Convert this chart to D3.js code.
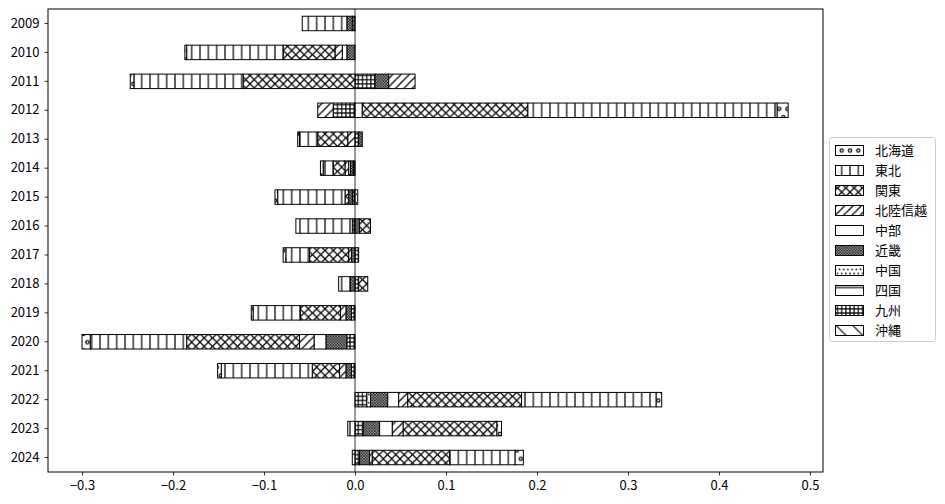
<!DOCTYPE html>
<html><head><meta charset="utf-8">
<script src="https://cdn.jsdelivr.net/npm/d3@7"></script>
<style>body{margin:0;background:#fff}svg{display:block}text{font-family:"Noto Sans CJK JP","Noto Sans",sans-serif}</style>
</head><body><svg id="c" width="945" height="504"></svg>
<script>
const years = [2009,2010,2011,2012,2013,2014,2015,2016,2017,2018,2019,2020,2021,2022,2023,2024];
const regions = ["北海道","東北","関東","北陸信越","中部","近畿","中国","四国","九州","沖縄"];
const hokkaido = [0,-0.002,-0.004,0.012,-0.002,-0.003,-0.003,0,-0.003,0,-0.002,-0.009,-0.004,0.006,0.005,0.009];
const tohoku   = [-0.049,-0.106,-0.120,0.274,-0.020,-0.011,-0.074,-0.062,-0.026,-0.013,-0.052,-0.106,-0.100,0.148,-0.008,0.072];
const kanto    = [0,-0.057,-0.123,0.182,-0.033,-0.013,-0.004,0.012,-0.043,0.010,-0.044,-0.124,-0.030,0.125,0.103,0.085];
const hokuriku = [0,-0.008,0.029,-0.017,-0.008,-0.004,0,0,-0.003,0,-0.006,-0.016,-0.007,0.010,0.012,0.003];
const chubu    = [0,-0.005,0,0.008,0,-0.002,0,0,0,0,0,-0.013,0,0.012,0.014,0];
const kinki    = [-0.006,-0.009,0.015,0,0.004,-0.003,-0.004,0.005,-0.004,-0.005,-0.006,-0.023,-0.006,0.019,0.018,0.011];
const chugoku  = [0,0,0,0,0,0,0.003,0,0,0,0,0,0,0.004,0,0];
const shikoku  = [0,0,0,0,0,0,0,0,0,0,0,0,0,0,0,-0.003];
const kyushu   = [-0.003,0,0.022,-0.024,0.004,-0.002,-0.003,-0.003,0.004,0.004,-0.004,-0.009,-0.004,0.013,0.009,0.005];
const okinawa  = [0,0,0,0,0,0,0,0,0,0,0,0,0,0,0,0];
const series = [hokkaido,tohoku,kanto,hokuriku,chubu,kinki,chugoku,shikoku,kyushu,okinawa];
const xTicks = [-0.3,-0.2,-0.1,0.0,0.1,0.2,0.3,0.4,0.5];

const svg = d3.select("#c");
const L=48,R=823,T=9,B=472;
const x = d3.scaleLinear().domain([-0.3374,0.5143]).range([L,R]);
const y = d3.scaleBand().domain(years).range([T,B]).paddingInner(0.5).paddingOuter(0.25);

// hatch patterns
const defs = svg.append("defs");
const S = 100/12; // hatch spacing
const hw = 1.2;
function pat(id,w,h,draw,oy){
  const p = defs.append("pattern").attr("id",id).attr("patternUnits","userSpaceOnUse")
    .attr("width",w).attr("height",h).attr("x",0).attr("y",oy===undefined?0.5:oy);
  p.append("rect").attr("width",w).attr("height",h).attr("fill","#fff");
  draw(p,w,h);
}
function ln(p,x1,y1,x2,y2){p.append("line").attr("x1",x1).attr("y1",y1).attr("x2",x2).attr("y2",y2).attr("stroke","#000").attr("stroke-width",hw);}
function circ(p,cx,cy,r,fill){p.append("circle").attr("cx",cx).attr("cy",cy).attr("r",r).attr("fill",fill?"#000":"none").attr("stroke","#000").attr("stroke-width",fill?0:hw);}
function stag(p,w,r,fill){ [[0,0],[w,0],[0,2*w],[w,2*w],[w/2,w]].forEach(c=>circ(p,c[0],c[1],r,fill)); }
pat("h0",S,2*S,(p,w)=>stag(p,w,w*0.2,false));
pat("h1",S,S,(p,w,h)=>{ln(p,0,0,0,h);ln(p,w,0,w,h);});
pat("h2",S,S,(p,w,h)=>{ln(p,-1,h+1,w+1,-1);ln(p,-1,-1,w+1,h+1);ln(p,-w/2-1,w/2+1,w/2+1,-w/2-1);ln(p,w/2-1,w*1.5+1,w*1.5+1,w/2-1);ln(p,-w/2-1,w/2-1,w/2+1,w*1.5+1);ln(p,w/2-1,-w/2-1,w*1.5+1,w/2+1);});
pat("h3",S,S,(p,w,h)=>{ln(p,-1,h+1,w+1,-1);ln(p,-w/2-1,w/2+1,w/2+1,-w/2-1);ln(p,w/2-1,w*1.5+1,w*1.5+1,w/2-1);});
pat("h4",S,S,()=>{});
pat("h5",S/3,S/3,(p,w)=>{circ(p,0,0,0.9,true);circ(p,w,0,0.9,true);circ(p,0,w,0.9,true);circ(p,w,w,0.9,true);circ(p,w/2,w/2,0.9,true);});
pat("h6",S/2,S,(p,w)=>stag(p,w,w*0.2,true),-1.5);
pat("h7",2*S,2*S,(p,w,h)=>{ln(p,0,0,w,0);ln(p,0,h,w,h);},4.2);
pat("h8",S/2,S/2,(p,w,h)=>{ln(p,0,0,0,h);ln(p,w,0,w,h);ln(p,0,0,w,0);ln(p,0,h,w,h);});
pat("h9",2*S,2*S,(p,w,h)=>{ln(p,-1,-1,w+1,h+1);ln(p,-w/2-1,w/2-1,w/2+1,w*1.5+1);ln(p,w/2-1,-w/2-1,w*1.5+1,w/2+1);},6);

// stacked data (pos/neg stacked separately, reverse column order)
const segs=[];
years.forEach((yr,i)=>{
  let pos=0,neg=0;
  for(let k=series.length-1;k>=0;k--){
    const v=series[k][i];
    if(v>=0){segs.push({yr,k,x0:pos,x1:pos+v});pos+=v;}
    else{segs.push({yr,k,x0:neg+v,x1:neg});neg+=v;}
  }
});
svg.append("g").selectAll("rect").data(segs.filter(d=>d.x1-d.x0>0)).join("rect")
  .attr("x",d=>x(d.x0)).attr("width",d=>x(d.x1)-x(d.x0))
  .attr("y",d=>y(d.yr)).attr("height",y.bandwidth())
  .attr("fill",d=>`url(#h${d.k})`).attr("stroke","#000").attr("stroke-width",1);

// zero line
svg.append("line").attr("x1",x(0)).attr("x2",x(0)).attr("y1",T).attr("y2",B).attr("stroke","#000").attr("stroke-width",0.8);

// axes
const fmt=d3.format(".1f");
const gx=svg.append("g").attr("transform",`translate(0,${B})`).call(d3.axisBottom(x).tickValues(xTicks).tickFormat(fmt).tickSize(3.5).tickPadding(5));
const gy=svg.append("g").attr("transform",`translate(${L},0)`).call(d3.axisLeft(y).tickSize(3.5).tickPadding(5));
[gx,gy].forEach(g=>{g.select(".domain").remove();g.selectAll("line").attr("stroke","#000").attr("stroke-width",0.8);g.selectAll("text").attr("font-size",13).attr("fill","#000").attr("font-family","\"Noto Sans CJK JP\",sans-serif");});
svg.append("rect").attr("x",L).attr("y",T).attr("width",R-L).attr("height",B-T).attr("fill","none").attr("stroke","#000").attr("stroke-width",1);

// legend
const lg=svg.append("g");
lg.append("rect").attr("x",829.5).attr("y",137.5).attr("width",106).attr("height",204).attr("rx",3)
  .attr("fill","#fff").attr("fill-opacity",0.8).attr("stroke","#ccc").attr("stroke-width",1);
regions.forEach((r,k)=>{
  const cy=150.5+k*20;
  lg.append("rect").attr("x",835.5).attr("y",cy-5).attr("width",28).attr("height",10)
    .attr("fill",`url(#h${k})`).attr("stroke","#000").attr("stroke-width",1);
  lg.append("text").attr("x",875).attr("y",cy).attr("dy","0.35em").attr("font-size",13).text(r);
});
</script></body></html>
